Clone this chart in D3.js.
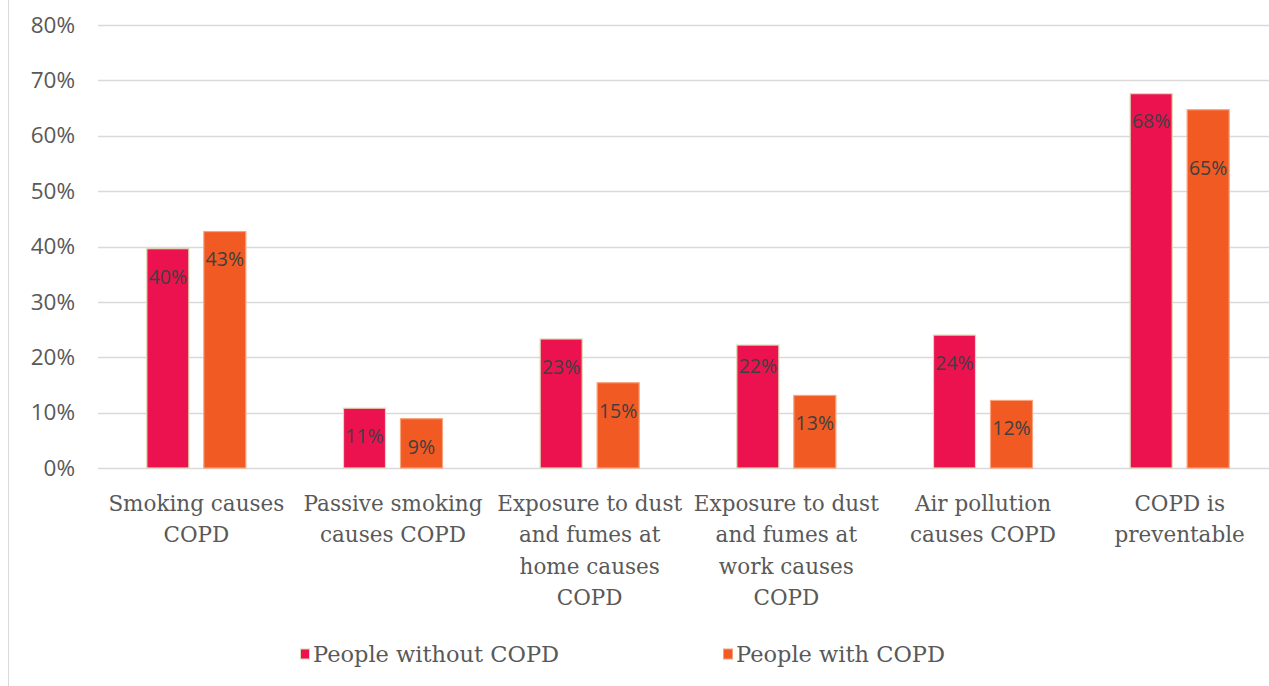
<!DOCTYPE html>
<html>
<head>
<meta charset="utf-8">
<script src="https://cdn.jsdelivr.net/npm/d3@7"></script>
<style>
  html, body { margin: 0; padding: 0; background: #fff; }
  svg { display: block; }
</style>
</head>
<body>
<svg id="chart" width="1269" height="686"></svg>
<script>
// Beliefs about COPD causes and prevention
const categories = [
  "Smoking causes COPD",
  "Passive smoking causes COPD",
  "Exposure to dust and fumes at home causes COPD",
  "Exposure to dust and fumes at work causes COPD",
  "Air pollution causes COPD",
  "COPD is preventable"
];
const seriesNames = ["People without COPD", "People with COPD"];
const withoutCOPD = [0.396, 0.108, 0.233, 0.222, 0.240, 0.676];
const withCOPD    = [0.427, 0.089, 0.154, 0.131, 0.122, 0.647];
const yTicks = [0, 0.1, 0.2, 0.3, 0.4, 0.5, 0.6, 0.7, 0.8];

const colors = ["#EC1250", "#F15A22"];
const outlines = ["#d8dcb4", "#f8a27c"];

const W = 1269, H = 686;
const margin = { left: 98, right: -9, top: 25, bottom: 218 };
const svg = d3.select("#chart");

// chart area left border
svg.append("line")
  .attr("x1", 8.5).attr("x2", 8.5).attr("y1", 0).attr("y2", H)
  .attr("stroke", "#d9d9d9").attr("stroke-width", 1);

const x0 = d3.scaleBand()
  .domain(categories)
  .range([margin.left, W - margin.right])
  .paddingInner(0).paddingOuter(0);

// the pair of bars sits centred in each category band
const pairWidth = 100;
const x1 = d3.scaleBand()
  .domain(seriesNames)
  .range([(x0.bandwidth() - pairWidth) / 2, (x0.bandwidth() + pairWidth) / 2])
  .paddingInner(0.245).paddingOuter(0);

const y = d3.scaleLinear()
  .domain([0, 0.8])
  .range([H - margin.bottom, margin.top]);

// gridlines
svg.append("g")
  .selectAll("line")
  .data(yTicks)
  .join("line")
  .attr("x1", margin.left).attr("x2", W)
  .attr("y1", d => Math.round(y(d)) + 0.5).attr("y2", d => Math.round(y(d)) + 0.5)
  .attr("stroke", "#d9d9d9").attr("stroke-width", 1.3);

// y axis labels
const yAxis = d3.axisLeft(y).tickValues(yTicks).tickFormat(d3.format(".0%")).tickSize(0).tickPadding(0);
const gy = svg.append("g").attr("transform", `translate(${75},0)`).call(yAxis);
gy.select(".domain").remove();
gy.selectAll("text")
  .attr("font-family", "'Open Sans', 'DejaVu Sans', sans-serif")
  .attr("font-size", 22.5)
  .attr("fill", "#595959");

// bars
const rows = categories.map((c, i) => ({ cat: c, vals: [withoutCOPD[i], withCOPD[i]] }));
const groups = svg.append("g").selectAll("g")
  .data(rows)
  .join("g")
  .attr("transform", d => `translate(${x0(d.cat)},0)`);

groups.selectAll("rect")
  .data(d => d.vals.map((v, k) => ({ v, k })))
  .join("rect")
  .attr("x", d => x1(seriesNames[d.k]) + 0.5)
  .attr("width", x1.bandwidth() - 1)
  .attr("y", d => y(d.v))
  .attr("height", d => y(0) - y(d.v))
  .attr("fill", d => colors[d.k])
  .attr("stroke", d => outlines[d.k])
  .attr("stroke-width", 1.2);

// value labels, placed just inside the top of each bar
const labelNudge = { "3-0": -7, "5-1": 30 }; // keeps crowded labels apart
groups.selectAll("text.val")
  .data((d, i) => d.vals.map((v, k) => ({ v, k, i })))
  .join("text")
  .attr("class", "val")
  .attr("x", d => x1(seriesNames[d.k]) + x1.bandwidth() / 2)
  .attr("y", d => y(d.v) + 28 + (labelNudge[`${d.i}-${d.k}`] || 0))
  .attr("dy", "0.35em")
  .attr("text-anchor", "middle")
  .attr("font-family", "'Open Sans', 'DejaVu Sans', sans-serif")
  .attr("font-size", 19.5)
  .attr("fill", "#404040")
  .text(d => d3.format(".0%")(d.v));

// category labels, wrapped to the band width
const catFont = "'DejaVu Serif', serif";
const catSize = 21.5;
const measure = document.createElement("canvas").getContext("2d");
measure.font = `${catSize}px DejaVu Serif`;
function wrap(text, maxW) {
  const words = text.split(" ");
  const lines = [];
  let line = "";
  for (const w of words) {
    const test = line ? line + " " + w : w;
    if (measure.measureText(test).width > maxW && line) {
      lines.push(line);
      line = w;
    } else line = test;
  }
  if (line) lines.push(line);
  return lines;
}
const catG = svg.append("g");
categories.forEach(c => {
  const lines = wrap(c, x0.bandwidth() - 4);
  const t = catG.append("text")
    .attr("x", x0(c) + x0.bandwidth() / 2)
    .attr("y", 503)
    .attr("text-anchor", "middle")
    .attr("font-family", catFont)
    .attr("font-size", catSize)
    .attr("fill", "#595959");
  lines.forEach((l, j) => {
    t.append("tspan")
      .attr("x", x0(c) + x0.bandwidth() / 2)
      .attr("y", 503 + j * 31.6)
      .attr("dy", "0.35em")
      .text(l);
  });
});

// legend
const legendX = [300, 723];
const lg = svg.append("g").selectAll("g")
  .data(seriesNames)
  .join("g")
  .attr("transform", (d, i) => `translate(${legendX[i]},654)`);
lg.append("rect")
  .attr("x", 0.5).attr("y", -5)
  .attr("width", 9).attr("height", 10)
  .attr("fill", (d, i) => colors[i])
  .attr("stroke", (d, i) => outlines[i])
  .attr("stroke-width", 1);
lg.append("text")
  .attr("x", 13).attr("y", 0).attr("dy", "0.35em")
  .attr("font-family", catFont)
  .attr("font-size", 22.5)
  .attr("fill", "#595959")
  .text(d => d);
</script>
</body>
</html>
